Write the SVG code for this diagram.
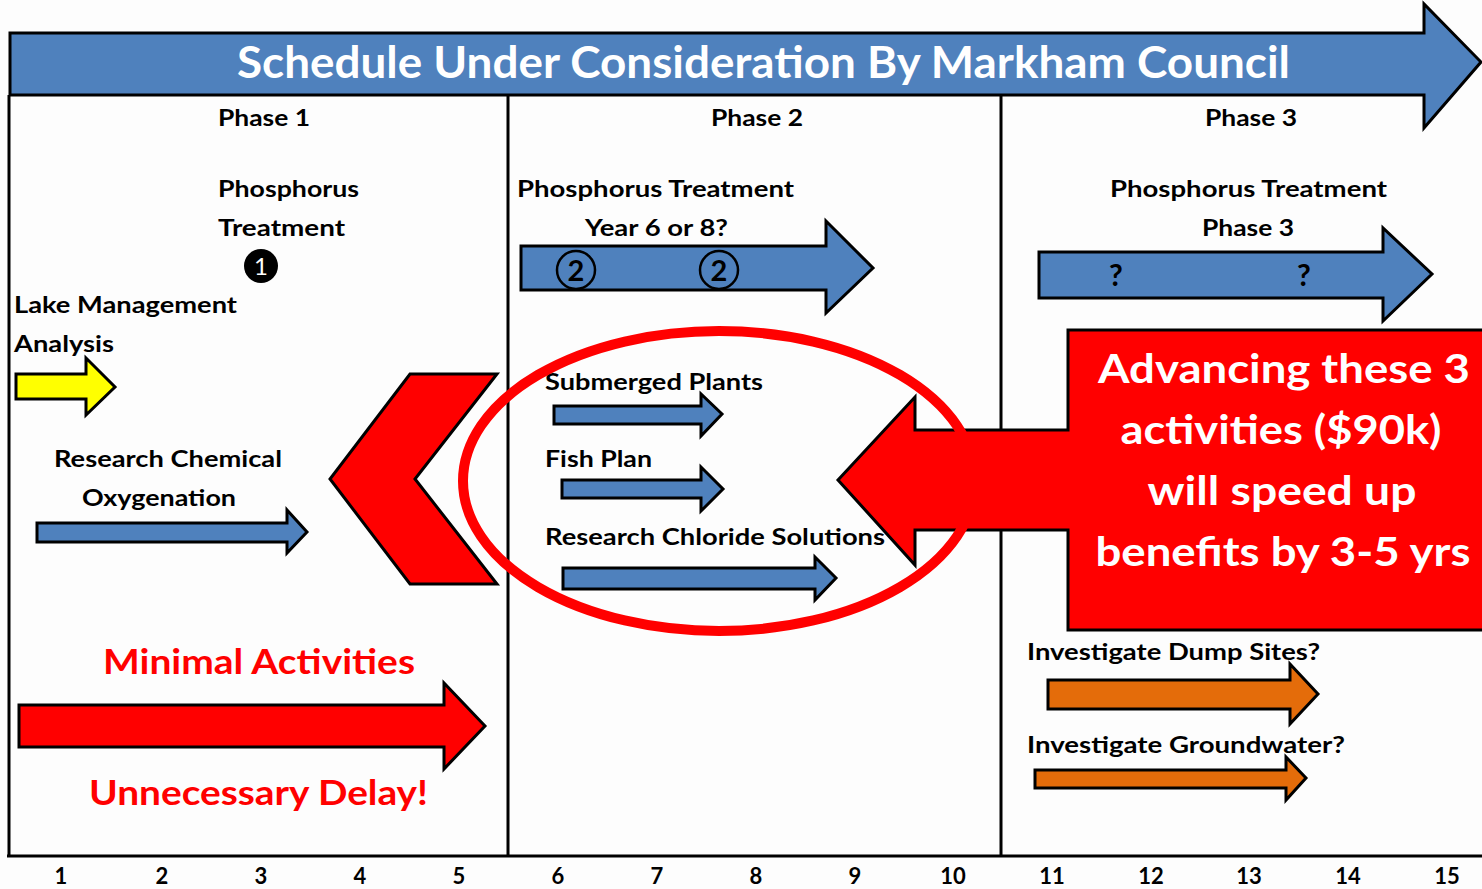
<svg xmlns="http://www.w3.org/2000/svg" width="1482" height="889" viewBox="0 0 1482 889">
<style>
.t{font-family:Lato,"Open Sans","Liberation Sans",sans-serif;font-weight:bold;fill:#000}
.s22{font-size:23px}
.ax{font-size:22px}
.w{fill:#fff}
.r{fill:#ff0000}
.blue{fill:#4f81bd;stroke:#000;stroke-width:3;stroke-linejoin:miter}
.red{fill:#ff0000;stroke:#000;stroke-width:3}
.yel{fill:#ffff00;stroke:#000;stroke-width:3}
.org{fill:#e46c0a;stroke:#000;stroke-width:3}
.ln{stroke:#000;stroke-width:3;fill:none}
</style>
<rect width="1482" height="889" fill="#fdfdfd"/>

<g id="frame">
<line class="ln" x1="9" y1="95" x2="9" y2="856"/>
<line class="ln" x1="508" y1="95" x2="508" y2="856"/>
<line class="ln" x1="1001" y1="95" x2="1001" y2="856"/>
<line class="ln" x1="7" y1="856" x2="1482" y2="856"/>
</g>

<g id="banner">
<polygon class="blue" points="10,33 1424,33 1424,4 1481,62 1424,128 1424,95 10,95"/>
<text class="t w" x="237" y="78" font-size="43" textLength="1053" lengthAdjust="spacingAndGlyphs">Schedule Under Consideration By Markham Council</text>
</g>

<g id="phase-labels">
<text class="t s22" x="218" y="126" textLength="92" lengthAdjust="spacingAndGlyphs">Phase 1</text>
<text class="t s22" x="711" y="126" textLength="92" lengthAdjust="spacingAndGlyphs">Phase 2</text>
<text class="t s22" x="1205" y="126" textLength="92" lengthAdjust="spacingAndGlyphs">Phase 3</text>
</g>

<g id="p1-phosphorus">
<text class="t s22" x="218" y="197" textLength="141" lengthAdjust="spacingAndGlyphs">Phosphorus</text>
<text class="t s22" x="218" y="236" textLength="127" lengthAdjust="spacingAndGlyphs">Treatment</text>
<circle cx="261" cy="266" r="17" fill="#000"/>
<text x="261" y="275" text-anchor="middle" font-family="Lato,'Liberation Sans',sans-serif" font-size="24" fill="#fff">1</text>
</g>

<g id="lake-management">
<text class="t s22" x="14" y="313" textLength="223" lengthAdjust="spacingAndGlyphs">Lake Management</text>
<text class="t s22" x="14" y="352" textLength="100" lengthAdjust="spacingAndGlyphs">Analysis</text>
<polygon class="yel" points="16,374 86,374 86,358 115,387 86,415 86,399 16,399"/>
</g>

<g id="chemical-oxygenation">
<text class="t s22" x="54" y="467" textLength="228" lengthAdjust="spacingAndGlyphs">Research Chemical</text>
<text class="t s22" x="82" y="506" textLength="154" lengthAdjust="spacingAndGlyphs">Oxygenation</text>
<polygon class="blue" points="37,523 287,523 287,510 307,532 287,553 287,542 37,542"/>
</g>

<g id="chevron">
<polygon class="red" points="410,374 497,374 415,479 497,584 410,584 330,479"/>
</g>

<g id="minimal">
<text class="t r" x="103" y="674" font-size="35" textLength="312" lengthAdjust="spacingAndGlyphs">Minimal Activities</text>
<polygon class="red" points="19,705 444,705 444,683 485,726 444,769 444,747 19,747"/>
<text class="t r" x="89" y="805" font-size="35" textLength="339" lengthAdjust="spacingAndGlyphs">Unnecessary Delay!</text>
</g>

<g id="p2-phosphorus">
<text class="t s22" x="517" y="197" textLength="277" lengthAdjust="spacingAndGlyphs">Phosphorus Treatment</text>
<text class="t s22" x="585" y="236" textLength="143" lengthAdjust="spacingAndGlyphs">Year 6 or 8?</text>
<polygon class="blue" points="521,246 826,246 826,221 873,268 826,313 826,290 521,290"/>
<circle cx="576" cy="270" r="19" fill="none" stroke="#000" stroke-width="2.5"/>
<text class="t" x="576" y="281" text-anchor="middle" font-size="29" font-weight="900">2</text>
<circle cx="719" cy="270" r="19" fill="none" stroke="#000" stroke-width="2.5"/>
<text class="t" x="719" y="281" text-anchor="middle" font-size="29" font-weight="900">2</text>
</g>

<g id="submerged-plants">
<text class="t s22" x="545" y="390" textLength="218" lengthAdjust="spacingAndGlyphs">Submerged Plants</text>
<polygon class="blue" points="554,406 701,406 701,394 722,414 701,436 701,424 554,424"/>
</g>

<g id="fish-plan">
<text class="t s22" x="545" y="467" textLength="107" lengthAdjust="spacingAndGlyphs">Fish Plan</text>
<polygon class="blue" points="562,480 701,480 701,467 723,489 701,511 701,498 562,498"/>
</g>

<g id="chloride">
<text class="t s22" x="545" y="545" textLength="340" lengthAdjust="spacingAndGlyphs">Research Chloride Solutions</text>
<polygon class="blue" points="563,568 815,568 815,557 836,578 815,600 815,589 563,589"/>
</g>

<g id="p3-phosphorus">
<text class="t s22" x="1110" y="197" textLength="277" lengthAdjust="spacingAndGlyphs">Phosphorus Treatment</text>
<text class="t s22" x="1202" y="236" textLength="92" lengthAdjust="spacingAndGlyphs">Phase 3</text>
<polygon class="blue" points="1039,252 1383,252 1383,228 1432,274 1383,321 1383,298 1039,298"/>
<text class="t" x="1116" y="286" text-anchor="middle" font-size="30" font-weight="900">?</text>
<text class="t" x="1304" y="286" text-anchor="middle" font-size="30" font-weight="900">?</text>
</g>

<g id="advance-callout">
<path d="M1482,330 L1068,330 L1068,430 L915,430 L915,397 L838,480 L915,565 L915,530 L1068,530 L1068,630 L1482,630" fill="#ff0000" stroke="#000" stroke-width="3" stroke-linejoin="miter"/>
<text class="t w" x="1284" y="383" text-anchor="middle" font-size="40" textLength="372" lengthAdjust="spacingAndGlyphs">Advancing these 3</text>
<text class="t w" x="1281" y="444" text-anchor="middle" font-size="40" textLength="321" lengthAdjust="spacingAndGlyphs">activities ($90k)</text>
<text class="t w" x="1282" y="505" text-anchor="middle" font-size="40" textLength="269" lengthAdjust="spacingAndGlyphs">will speed up</text>
<text class="t w" x="1283" y="566" text-anchor="middle" font-size="40" textLength="375" lengthAdjust="spacingAndGlyphs">benefits by 3-5 yrs</text>
</g>

<g id="highlight-ellipse">
<ellipse cx="719" cy="481" rx="256" ry="150" fill="none" stroke="#ff0000" stroke-width="10"/>
</g>

<g id="dump-sites">
<text class="t s22" x="1027" y="660" textLength="293" lengthAdjust="spacingAndGlyphs">Investigate Dump Sites?</text>
<polygon class="org" points="1048,680 1290,680 1290,664 1318,694 1290,724 1290,709 1048,709"/>
</g>

<g id="groundwater">
<text class="t s22" x="1027" y="753" textLength="318" lengthAdjust="spacingAndGlyphs">Investigate Groundwater?</text>
<polygon class="org" points="1035,770 1286,770 1286,757 1306,778 1286,800 1286,788 1035,788"/>
</g>

<g id="axis">
<text class="t ax" x="61" y="884" text-anchor="middle">1</text>
<text class="t ax" x="162" y="884" text-anchor="middle">2</text>
<text class="t ax" x="261" y="884" text-anchor="middle">3</text>
<text class="t ax" x="360" y="884" text-anchor="middle">4</text>
<text class="t ax" x="459" y="884" text-anchor="middle">5</text>
<text class="t ax" x="558" y="884" text-anchor="middle">6</text>
<text class="t ax" x="657" y="884" text-anchor="middle">7</text>
<text class="t ax" x="756" y="884" text-anchor="middle">8</text>
<text class="t ax" x="855" y="884" text-anchor="middle">9</text>
<text class="t ax" x="953" y="884" text-anchor="middle">10</text>
<text class="t ax" x="1052" y="884" text-anchor="middle">11</text>
<text class="t ax" x="1151" y="884" text-anchor="middle">12</text>
<text class="t ax" x="1249" y="884" text-anchor="middle">13</text>
<text class="t ax" x="1348" y="884" text-anchor="middle">14</text>
<text class="t ax" x="1447" y="884" text-anchor="middle">15</text>
</g>
</svg>
